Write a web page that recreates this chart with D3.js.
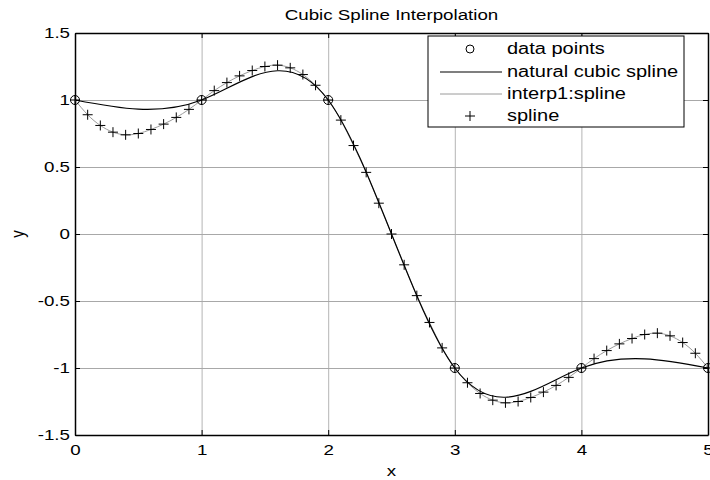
<!DOCTYPE html>
<html>
<head>
<meta charset="utf-8">
<script src="https://cdn.jsdelivr.net/npm/d3@7"></script>
<style>
  body { margin: 0; background: #fff; }
  text { font-family: "Liberation Sans", Arial, sans-serif; fill: #000; }
</style>
</head>
<body>
<script>
// data
var dataX = [0, 1, 2, 3, 4, 5];
var dataY = [1, 1, 1, -1, -1, -1];

// spline samples (every 0.1)
var splineX = [0.0,0.1,0.2,0.3,0.4,0.5,0.6,0.7,0.8,0.9,
  1.0,1.1,1.2,1.3,1.4,1.5,1.6,1.7,1.8,1.9,
  2.0,2.1,2.2,2.3,2.4,2.5,2.6,2.7,2.8,2.9,
  3.0,3.1,3.2,3.3,3.4,3.5,3.6,3.7,3.8,3.9,
  4.0,4.1,4.2,4.3,4.4,4.5,4.6,4.7,4.8,4.9,5.0];
var splineY = [1.00,0.89,0.81,0.76,0.74,0.75,0.78,0.82,0.87,0.93,
  1.00,1.07,1.13,1.18,1.22,1.25,1.26,1.24,1.19,1.11,
  1.00,0.85,0.66,0.46,0.23,0.00,-0.23,-0.46,-0.66,-0.85,
  -1.00,-1.11,-1.19,-1.24,-1.26,-1.25,-1.22,-1.18,-1.13,-1.07,
  -1.00,-0.93,-0.87,-0.82,-0.78,-0.75,-0.74,-0.76,-0.81,-0.89,-1.00];

var xTicks = [0, 1, 2, 3, 4, 5];
var xTickLabels = ["0", "1", "2", "3", "4", "5"];
var yTicks = [-1.5, -1, -0.5, 0, 0.5, 1, 1.5];
var yTickLabels = ["-1.5", "-1", "-0.5", "0", "0.5", "1", "1.5"];
var legendLabels = ["data points", "natural cubic spline", "interp1:spline", "spline"];

var W = 710, H = 480;
var margin = {top: 33, right: 2, bottom: 45, left: 75};
var width = W - margin.left - margin.right,
    height = H - margin.top - margin.bottom;
var stretch = "scale(1.25,1)";

var svg = d3.select("body").append("svg")
  .attr("width", W).attr("height", H);

var x = d3.scaleLinear().domain([0, 5]).range([margin.left, margin.left + width]);
var y = d3.scaleLinear().domain([-1.5, 1.5]).range([margin.top + height, margin.top]);

// grid
svg.append("g")
  .attr("transform", "translate(0," + (margin.top + height) + ")")
  .call(d3.axisBottom(x).tickValues(xTicks).tickSize(-height).tickFormat(""))
  .call(function(g){
    g.select(".domain").remove();
    g.selectAll("line").attr("stroke", "#b4b4b4");
  });
svg.append("g")
  .attr("transform", "translate(" + margin.left + ",0)")
  .call(d3.axisLeft(y).tickValues(yTicks).tickSize(-width).tickFormat(""))
  .call(function(g){
    g.select(".domain").remove();
    g.selectAll("line").attr("stroke", "#a8a8a8");
  });

// axes with inward ticks
var gb = svg.append("g")
  .attr("transform", "translate(0," + (margin.top + height) + ")")
  .call(d3.axisBottom(x).tickValues(xTicks).tickSize(-5).tickSizeOuter(0).tickPadding(9)
    .tickFormat(function(d, i){ return xTickLabels[i]; }));
var gl = svg.append("g")
  .attr("transform", "translate(" + margin.left + ",0)")
  .call(d3.axisLeft(y).tickValues(yTicks).tickSize(-5).tickSizeOuter(0).tickPadding(4)
    .tickFormat(function(d, i){ return yTickLabels[i]; }));
svg.append("g")
  .attr("transform", "translate(0," + margin.top + ")")
  .call(d3.axisTop(x).tickValues(xTicks).tickSize(-5).tickSizeOuter(0).tickFormat(""));
svg.append("g")
  .attr("transform", "translate(" + (margin.left + width) + ",0)")
  .call(d3.axisRight(y).tickValues(yTicks).tickSize(-5).tickSizeOuter(0).tickFormat(""));

svg.selectAll(".domain").attr("stroke", "#000").attr("stroke-width", 1.5);
svg.selectAll(".tick line").filter(function(){ return d3.select(this).attr("stroke") === "currentColor"; })
  .attr("stroke", "#000");
[gb, gl].forEach(function(g){
  g.selectAll("text")
    .style("font-family", "'Liberation Sans', Arial, sans-serif")
    .attr("font-size", 15)
    .attr("fill", "#000")
    .attr("transform", stretch);
});

// interp1:spline line (gray)
var line = d3.line()
  .x(function(d, i){ return x(splineX[i]); })
  .y(function(d){ return y(d); })
  .curve(d3.curveNatural);
svg.append("path")
  .datum(splineY)
  .attr("d", line)
  .attr("fill", "none")
  .attr("stroke", "#9a9a9a")
  .attr("stroke-width", 1);

// natural cubic spline (black)
var natLine = d3.line()
  .x(function(d, i){ return x(dataX[i]); })
  .y(function(d){ return y(d); })
  .curve(d3.curveNatural);
svg.append("path")
  .datum(dataY)
  .attr("d", natLine)
  .attr("fill", "none")
  .attr("stroke", "#000")
  .attr("stroke-width", 1.2);

// data points
svg.selectAll("circle.pt")
  .data(dataY)
  .enter().append("circle")
  .attr("class", "pt")
  .attr("cx", function(d, i){ return x(dataX[i]); })
  .attr("cy", function(d){ return y(d); })
  .attr("r", 4.5)
  .attr("fill", "none")
  .attr("stroke", "#000")
  .attr("stroke-width", 1);

// spline '+' markers
var plus = "M-5,0H5M0,-5V5";
svg.selectAll("path.plus")
  .data(splineY)
  .enter().append("path")
  .attr("class", "plus")
  .attr("transform", function(d, i){ return "translate(" + x(splineX[i]) + "," + y(d) + ")"; })
  .attr("d", plus)
  .attr("stroke", "#000")
  .attr("stroke-width", 1);

// title and labels
svg.append("text")
  .attr("transform", "translate(" + (margin.left + width / 2) + ",20) " + stretch)
  .attr("text-anchor", "middle")
  .attr("font-size", 15)
  .text("Cubic Spline Interpolation");
svg.append("text")
  .attr("transform", "translate(" + (margin.left + width / 2) + ",476) " + stretch)
  .attr("text-anchor", "middle")
  .attr("font-size", 15)
  .text("x");
svg.append("text")
  .attr("transform", "translate(24," + (margin.top + height / 2) + ") rotate(-90) scale(1,1.25)")
  .attr("text-anchor", "middle")
  .attr("font-size", 15)
  .text("y");

// legend
var lg = svg.append("g").attr("transform", "translate(428,36)");
lg.append("rect")
  .attr("width", 256).attr("height", 91)
  .attr("fill", "#fff").attr("stroke", "#000").attr("stroke-width", 1);
var rowY = [13, 36, 58, 80];
legendLabels.forEach(function(lab, i){
  var row = lg.append("g").attr("transform", "translate(0," + rowY[i] + ")");
  if (i === 0) {
    row.append("circle").attr("cx", 42).attr("cy", 0).attr("r", 4)
      .attr("fill", "none").attr("stroke", "#000");
  } else if (i === 3) {
    row.append("path").attr("transform", "translate(42,0)").attr("d", plus)
      .attr("stroke", "#000");
  } else {
    row.append("line").attr("x1", 12).attr("x2", 74).attr("y1", 0).attr("y2", 0)
      .attr("stroke", i === 1 ? "#000" : "#9a9a9a").attr("stroke-width", i === 1 ? 1.2 : 1);
  }
  row.append("text")
    .attr("transform", "translate(79,5) " + stretch)
    .attr("font-size", 16)
    .text(lab);
});
</script>
</body>
</html>
